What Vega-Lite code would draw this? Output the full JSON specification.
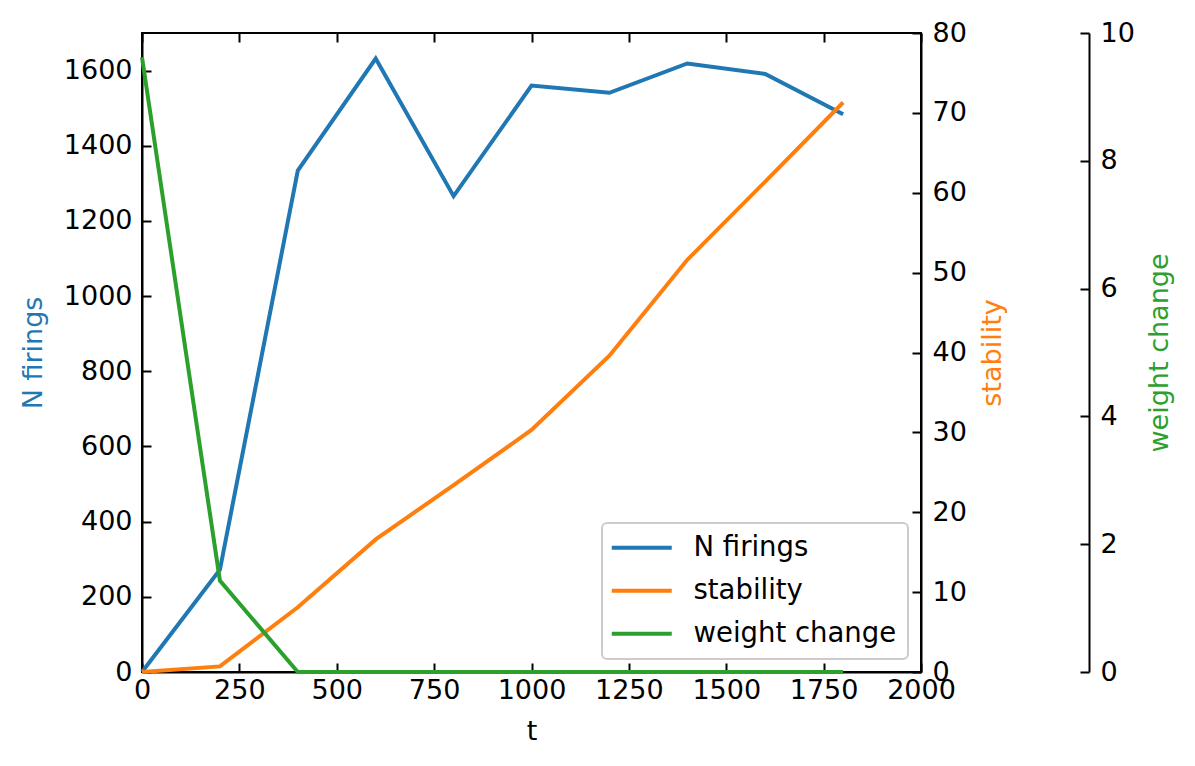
{
  "$schema": "https://vega.github.io/schema/vega-lite/v6.json",
  "width": 779,
  "height": 639,
  "autosize": "none",
  "padding": {"left": 142, "top": 33, "right": 274, "bottom": 94},
  "background": "white",
  "config": {
    "font": "DejaVu Sans",
    "view": {"stroke": "black", "strokeWidth": 2},
    "axis": {
      "grid": false,
      "domainColor": "black",
      "domainWidth": 2,
      "tickColor": "black",
      "tickWidth": 2,
      "tickSize": -9,
      "labelFontSize": 27,
      "labelColor": "black",
      "titleFontSize": 27,
      "titleFontWeight": "normal",
      "titleColor": "black",
      "labelFlush": false,
      "labelOverlap": false,
      "format": "d"
    },
    "legend": {
      "orient": "bottom-right",
      "offset": 13,
      "title": null,
      "labelFontSize": 27.5,
      "labelColor": "black",
      "labelLimit": 0,
      "symbolType": "M-3,0H3",
      "symbolSize": 400,
      "symbolStrokeWidth": 4,
      "symbolOffset": 15,
      "labelOffset": 38,
      "rowPadding": 14,
      "padding": 11,
      "fillColor": "white",
      "strokeColor": "#cccccc",
      "strokeWidth": 2,
      "cornerRadius": 5
    }
  },
  "datasets": {
    "firings": [
      {"t": 0, "series": "N firings", "value": 0},
      {"t": 200, "series": "N firings", "value": 272},
      {"t": 400, "series": "N firings", "value": 1334},
      {"t": 600, "series": "N firings", "value": 1632},
      {"t": 800, "series": "N firings", "value": 1266},
      {"t": 1000, "series": "N firings", "value": 1560},
      {"t": 1200, "series": "N firings", "value": 1541},
      {"t": 1400, "series": "N firings", "value": 1619},
      {"t": 1600, "series": "N firings", "value": 1591},
      {"t": 1800, "series": "N firings", "value": 1484}
    ],
    "stability": [
      {"t": 0, "series": "stability", "value": 0},
      {"t": 200, "series": "stability", "value": 0.7},
      {"t": 400, "series": "stability", "value": 8.1},
      {"t": 600, "series": "stability", "value": 16.6},
      {"t": 800, "series": "stability", "value": 23.4},
      {"t": 1000, "series": "stability", "value": 30.3},
      {"t": 1200, "series": "stability", "value": 39.6},
      {"t": 1400, "series": "stability", "value": 51.6},
      {"t": 1600, "series": "stability", "value": 61.4},
      {"t": 1800, "series": "stability", "value": 71.3}
    ],
    "weight": [
      {"t": 0, "series": "weight change", "value": 9.62},
      {"t": 200, "series": "weight change", "value": 1.43},
      {"t": 400, "series": "weight change", "value": 0},
      {"t": 600, "series": "weight change", "value": 0},
      {"t": 800, "series": "weight change", "value": 0},
      {"t": 1000, "series": "weight change", "value": 0},
      {"t": 1200, "series": "weight change", "value": 0},
      {"t": 1400, "series": "weight change", "value": 0},
      {"t": 1600, "series": "weight change", "value": 0},
      {"t": 1800, "series": "weight change", "value": 0}
    ]
  },
  "resolve": {
    "scale": {"y": "independent"},
    "axis": {"x": "independent", "y": "independent"}
  },
  "layer": [
    {
      "data": {"name": "firings"},
      "mark": {"type": "line", "strokeWidth": 4},
      "encoding": {
        "x": {
          "field": "t", "type": "quantitative",
          "scale": {"domain": [0, 2000], "nice": false, "zero": false},
          "axis": {"orient": "bottom", "title": "t", "values": [0, 250, 500, 750, 1000, 1250, 1500, 1750, 2000], "labelPadding": 14, "titlePadding": 15}
        },
        "y": {
          "field": "value", "type": "quantitative",
          "scale": {"domain": [0, 1700], "nice": false},
          "axis": {"orient": "left", "title": "N firings", "titleColor": "#1f77b4", "values": [0, 200, 400, 600, 800, 1000, 1200, 1400, 1600], "labelPadding": 19, "titlePadding": 16}
        },
        "color": {
          "field": "series", "type": "nominal",
          "scale": {"domain": ["N firings", "stability", "weight change"], "range": ["#1f77b4", "#ff7f0e", "#2ca02c"]},
          "legend": {}
        }
      }
    },
    {
      "data": {"name": "stability"},
      "mark": {"type": "line", "strokeWidth": 4},
      "encoding": {
        "x": {
          "field": "t", "type": "quantitative",
          "axis": {"orient": "top", "title": null, "labels": false, "domain": false, "values": [0, 250, 500, 750, 1000, 1250, 1500, 1750, 2000]}
        },
        "y": {
          "field": "value", "type": "quantitative",
          "scale": {"domain": [0, 80], "nice": false},
          "axis": {"orient": "right", "title": "stability", "titleColor": "#ff7f0e", "titleAngle": 270, "values": [0, 10, 20, 30, 40, 50, 60, 70, 80], "labelPadding": 20, "titlePadding": 40}
        },
        "color": {"field": "series", "type": "nominal"}
      }
    },
    {
      "data": {"name": "weight"},
      "mark": {"type": "line", "strokeWidth": 4},
      "encoding": {
        "x": {"field": "t", "type": "quantitative", "axis": null},
        "y": {
          "field": "value", "type": "quantitative",
          "scale": {"domain": [0, 10], "nice": false},
          "axis": {"orient": "right", "offset": 168, "title": "weight change", "titleColor": "#2ca02c", "titleAngle": 270, "values": [0, 2, 4, 6, 8, 10], "labelPadding": 20, "titlePadding": 39}
        },
        "color": {"field": "series", "type": "nominal"}
      }
    }
  ]
}
